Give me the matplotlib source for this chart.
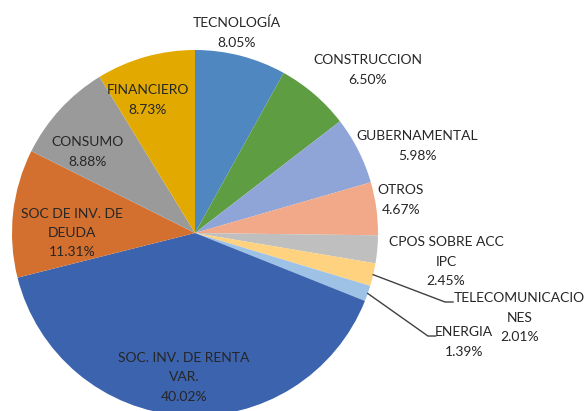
import matplotlib
matplotlib.use("Agg")
import matplotlib.pyplot as plt
import numpy as np

# data
labels = ["TECNOLOGÍA", "CONSTRUCCION", "GUBERNAMENTAL", "OTROS",
          "CPOS SOBRE ACC\nIPC", "TELECOMUNICACIO\nNES", "ENERGIA",
          "SOC. INV. DE RENTA\nVAR.", "SOC DE INV. DE\nDEUDA", "CONSUMO",
          "FINANCIERO"]
values = [8.05, 6.50, 5.98, 4.67, 2.45, 2.01, 1.39, 40.02, 11.31, 8.88, 8.73]
colors = ["#4F88C0", "#5F9D42", "#8FA5D7", "#F1A98A", "#BFBFBF", "#FFD27F",
          "#9DC2E6", "#3C63AD", "#D4702F", "#9A9A9A", "#E2AA00"]

# label positions (pie radius = 1)
label_pos = [(0.23, 1.093), (0.945, 0.891), (1.213, 0.475), (1.126, 0.180),
             (1.372, -0.158), (1.772, -0.464), (1.468, -0.596),
             (-0.06, -0.787), (-0.672, 0.0), (-0.585, 0.443), (-0.257, 0.727)]
# leader line elbows for the small slices
leaders = {5: ((1.366, -0.377), (1.41, -0.377)),
           6: ((1.273, -0.563), (1.315, -0.563))}

plt.rcParams['font.family'] = ['Lato', 'DejaVu Sans']

fig = plt.figure(figsize=(5.85, 4.11), dpi=100)
ax = fig.add_axes([0, 0, 1, 1])
wedges, _ = ax.pie(values, colors=colors, startangle=90, counterclock=False,
                   radius=1, wedgeprops=dict(linewidth=0))
ax.set_xlim(-195 / 183, 390 / 183)
ax.set_ylim(-178 / 183, 233 / 183)
ax.set_aspect('equal')
ax.axis('off')

txtcol = "#262626"
pitch = 19.5 / 183  # one text line, in pie radii
for i, (lab, v) in enumerate(zip(labels, values)):
    x, y = label_pos[i]
    lines = lab.split("\n") + [f"{v:.2f}%"]
    n = len(lines)
    for k, line in enumerate(lines):
        ax.text(x, y + ((n - 1) / 2 - k) * pitch, line, ha='center',
                va='center', fontsize=10, color=txtcol)
    if i in leaders:
        w = wedges[i]
        ang = np.deg2rad((w.theta1 + w.theta2) / 2)
        p0 = (np.cos(ang), np.sin(ang))
        p1, p2 = leaders[i]
        ax.plot([p0[0], p1[0], p2[0]], [p0[1], p1[1], p2[1]],
                color="#404040", lw=1)

fig.savefig("out.png", dpi=100)
